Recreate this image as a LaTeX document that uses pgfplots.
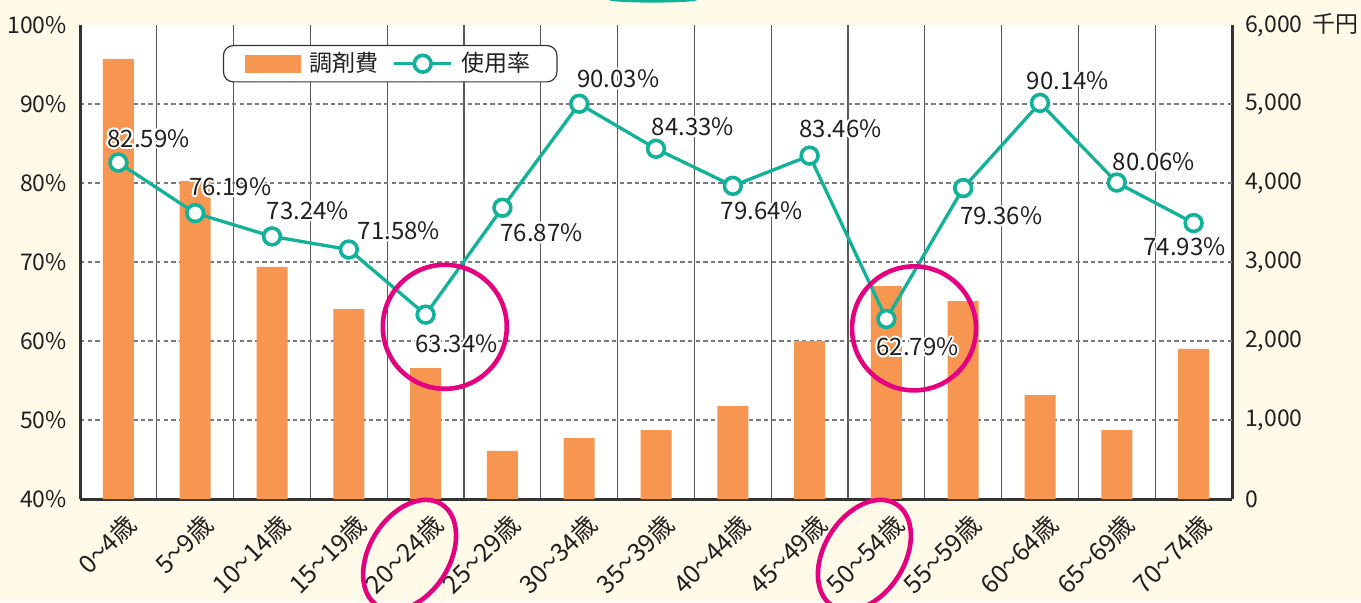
\documentclass[border=0pt]{standalone}
\usepackage{fontspec}
\setmainfont{Noto Sans CJK JP}
\usepackage{graphicx}
\usepackage{pgfplots}
\pgfplotsset{compat=1.18}
\definecolor{cream}{HTML}{FFFBE8}
\definecolor{barorange}{HTML}{F79650}
\definecolor{tealc}{HTML}{12B29A}
\definecolor{magc}{HTML}{E4007F}
\definecolor{axdark}{HTML}{333333}
\definecolor{txt}{HTML}{231F20}
\definecolor{gridg}{HTML}{7A7A7A}
\newcommand\wv{\scalebox{0.65}[1]{〜}}
\pgfplotsset{mylineleg/.style={legend image code/.code={\draw[rounded corners=0pt,mark repeat=2,mark phase=2,##1] plot coordinates {(0pt,0pt)(14.25pt,0pt)(28.5pt,0pt)};}}}
\newcommand\lblfont{\fontsize{12}{13}\selectfont}
\newcommand\hlab[4]{%
 \foreach \a in {0,30,...,330}{\node[text=white,font=\lblfont,inner sep=0pt,xshift=#2pt,yshift=#3pt,shift={(\a:0.9pt)}] at (#1) {#4};}%
 \node[text=txt,font=\lblfont,inner sep=0pt,xshift=#2pt,yshift=#3pt] at (#1) {#4};}
\begin{document}
\begin{tikzpicture}
\useasboundingbox (0pt,0pt) rectangle (680.5pt,301pt);
\fill[cream] (0pt,0pt) rectangle (680.5pt,301pt);
\fill[tealc] (326.5pt,301pt) ellipse (22pt and 1.3pt);
\begin{axis}[
  at={(40pt,51.5pt)}, anchor=south west, scale only axis,
  width=576pt, height=237pt,
  xmin=-0.5, xmax=14.5, ymin=0, ymax=6000,
  axis y line*=right, axis x line*=bottom,
  axis background/.style={fill=white},
  axis line style={line width=1.5pt, draw=axdark},
  xtick={0,...,14},
  xticklabels={0\wv4歳,5\wv9歳,10\wv14歳,15\wv19歳,20\wv24歳,25\wv29歳,30\wv34歳,35\wv39歳,40\wv44歳,45\wv49歳,50\wv54歳,55\wv59歳,60\wv64歳,65\wv69歳,70\wv74歳},
  minor xtick={0.5,1.5,...,13.5},
  xminorgrids,
  minor grid style={draw=gray!70!black, line width=0.65pt},
  ytick={0,1000,2000,3000,4000,5000,6000},
  yticklabels={0,{1,000},{2,000},{3,000},{4,000},{5,000},{6,000\hspace{5pt}千円}},
  extra y ticks={1000,2000,3000,4000,5000},
  extra y tick labels={},
  extra y tick style={grid=major},
  major grid style={draw=gridg, line width=0.7pt, dash pattern=on 2.2pt off 1.6pt},
  major tick length=0, minor tick length=0,
  tick label style={font=\fontsize{11.5}{12}\selectfont, text=txt},
  xticklabel style={font=\fontsize{12.5}{13}\selectfont, xshift=9pt, yshift=-8pt, rotate=45, anchor=east},
  yticklabel style={anchor=west, xshift=3pt},
  clip=false,
]
\addplot[ybar, bar width=15.5pt, fill=barorange, draw=none] coordinates {
 (0,5570) (1,4025) (2,2937) (3,2405) (4,1658) (5,608) (6,772) (7,873)
 (8,1177) (9,2000) (10,2696) (11,2506) (12,1316) (13,873) (14,1899)};
\end{axis}
\begin{axis}[
  at={(40pt,51.5pt)}, anchor=south west, scale only axis,
  width=576pt, height=237pt,
  xmin=-0.5, xmax=14.5, ymin=40, ymax=100,
  axis y line*=left, axis x line=none,
  axis line style={line width=1.5pt, draw=axdark},
  ytick={40,50,60,70,80,90,100},
  yticklabels={40\%,50\%,60\%,70\%,80\%,90\%,100\%},
  major tick length=0,
  tick label style={font=\fontsize{11.5}{12}\selectfont, text=txt},
  yticklabel style={anchor=east, xshift=-3pt},
  clip=false,
  legend columns=2,
  legend style={at={(0.124,0.958)}, anchor=north west, draw=axdark, line width=0.6pt,
    rounded corners=5pt, fill=white, font=\fontsize{11.5}{12}\selectfont, text=txt,
    inner xsep=11pt, inner ysep=1.5pt,
    /tikz/every odd column/.append style={column sep=2.5pt},
    /tikz/every even column/.append style={column sep=5pt}},
]
\addlegendimage{legend image code/.code={\fill[barorange, rounded corners=0pt] (0pt,-4.25pt) rectangle (27pt,4.25pt);}}
\addlegendentry{調剤費}
\addplot[draw=tealc, line width=1.65pt, mark=*, mark size=4.2pt,
  mark options={fill=white, draw=tealc, line width=1.8pt}, mylineleg]
 coordinates {
 (0,82.59) (1,76.19) (2,73.24) (3,71.58) (4,63.34) (5,76.87) (6,90.03) (7,84.33)
 (8,79.64) (9,83.46) (10,62.79) (11,79.36) (12,90.14) (13,80.06) (14,74.93)};
\addlegendentry{使用率}
\coordinate (p0) at (axis cs:0,82.59);
\coordinate (p1) at (axis cs:1,76.19);
\coordinate (p2) at (axis cs:2,73.24);
\coordinate (p3) at (axis cs:3,71.58);
\coordinate (p4) at (axis cs:4,63.34);
\coordinate (p5) at (axis cs:5,76.87);
\coordinate (p6) at (axis cs:6,90.03);
\coordinate (p7) at (axis cs:7,84.33);
\coordinate (p8) at (axis cs:8,79.64);
\coordinate (p9) at (axis cs:9,83.46);
\coordinate (p10) at (axis cs:10,62.79);
\coordinate (p11) at (axis cs:11,79.36);
\coordinate (p12) at (axis cs:12,90.14);
\coordinate (p13) at (axis cs:13,80.06);
\coordinate (p14) at (axis cs:14,74.93);
\coordinate (c1) at (axis cs:4.25,61.8);
\coordinate (c2) at (axis cs:10.36,61.6);
\coordinate (e1) at (axis cs:4,40);
\coordinate (e2) at (axis cs:10,40);
\end{axis}
\hlab{p0}{15}{12}{82.59\%}
\hlab{p1}{17.5}{13}{76.19\%}
\hlab{p2}{18}{13}{73.24\%}
\hlab{p3}{25}{9.5}{71.58\%}
\hlab{p4}{15.5}{-14.5}{63.34\%}
\hlab{p5}{19.5}{-12.5}{76.87\%}
\hlab{p6}{19.5}{12.5}{90.03\%}
\hlab{p7}{18.5}{11}{84.33\%}
\hlab{p8}{14.5}{-12.5}{79.64\%}
\hlab{p9}{15.5}{13.5}{83.46\%}
\hlab{p10}{15.5}{-14}{62.79\%}
\hlab{p11}{19}{-14}{79.36\%}
\hlab{p12}{14}{11}{90.14\%}
\hlab{p13}{18.5}{10.5}{80.06\%}
\hlab{p14}{-4.5}{-12}{74.93\%}
\draw[magc, line width=2.3pt] (c1) circle (31pt);
\draw[magc, line width=2.3pt] (c2) circle (31pt);
\coordinate (E1) at ([shift={(-8pt,-28pt)}]e1);
\coordinate (E2) at ([shift={(-11pt,-28pt)}]e2);
\draw[magc, line width=2.3pt, rotate around={58:(E1)}] (E1) ellipse (30pt and 20pt);
\draw[magc, line width=2.3pt, rotate around={58:(E2)}] (E2) ellipse (30pt and 20pt);
\end{tikzpicture}
\end{document}
